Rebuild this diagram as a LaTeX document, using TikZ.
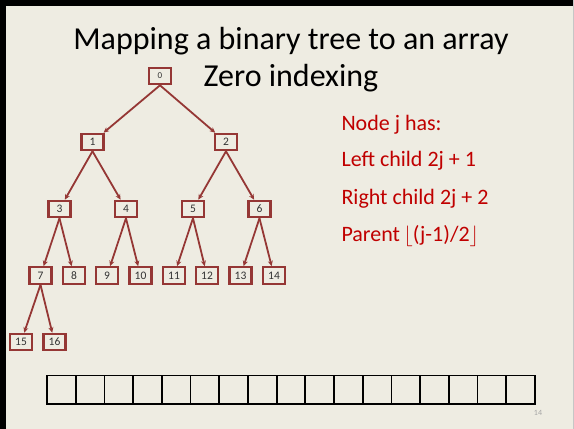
\documentclass[tikz,border=0pt]{standalone}
\usepackage{fontspec}
\setmainfont{Carlito}
\usetikzlibrary{arrows.meta}
\definecolor{slidebg}{RGB}{238,236,226}
\definecolor{treered}{RGB}{149,55,53}
\definecolor{notered}{RGB}{192,0,0}
\begin{document}
\begin{tikzpicture}[x=1pt,y=-1pt,
  tnode/.style={draw=treered, line width=2.1pt, minimum width=22pt, minimum height=16.5pt,
    inner sep=0pt, font=\fontsize{11.5}{11.5}\selectfont, text=black!80},
  edge/.style={draw=treered, line width=1.8pt, -{Stealth[length=5.5pt,width=5pt]}},
  cell/.style={draw=black, line width=1.8pt, minimum width=28.7pt, minimum height=28.5pt, inner sep=0pt},
  note/.style={anchor=base west, text=notered, font=\fontsize{22}{22}\selectfont}]
% slide background and frame
\fill[slidebg] (0,0) rectangle (574,429);
\useasboundingbox (0,0) rectangle (574,429);
\fill[black] (0,0) rectangle (574,6);
\fill[black] (0,0) rectangle (6,429);
\draw[gray!45, line width=1pt] (573,0) -- (573,429);

% title
\node[anchor=base, font=\fontsize{32}{32}\selectfont] (title) at (291,49.3) {Mapping a binary tree to an array};
\node[anchor=base, font=\fontsize{32}{32}\selectfont] (sub) at (291,86) {Zero indexing};

% tree
\node[tnode, font=\fontsize{9}{9}\selectfont] (n0) at (160,76) {0};
\node[tnode] (n1) at (92.5,142) {1};
\node[tnode] (n2) at (226,142) {2};
\node[tnode] (n3) at (59.5,209) {3};
\node[tnode] (n4) at (126,209) {4};
\node[tnode] (n5) at (193,209) {5};
\node[tnode] (n6) at (259.5,209) {6};
\node[tnode] (n7) at (40.5,275.5) {7};
\node[tnode] (n8) at (74,275.5) {8};
\node[tnode] (n9) at (107,275.5) {9};
\node[tnode] (n10) at (140.5,275.5) {10};
\node[tnode] (n11) at (174,275.5) {11};
\node[tnode] (n12) at (207,275.5) {12};
\node[tnode] (n13) at (240.5,275.5) {13};
\node[tnode] (n14) at (274,275.5) {14};
\node[tnode] (n15) at (21,342) {15};
\node[tnode] (n16) at (54.5,342) {16};

\foreach \p/\c in {n0/n1,n0/n2,n1/n3,n1/n4,n2/n5,n2/n6,n3/n7,n3/n8,n4/n9,n4/n10,
                   n5/n11,n5/n12,n6/n13,n6/n14,n7/n15,n7/n16}
  \draw[edge] (\p.south) -- (\c);

% index rules
\node[note] (r1) at (338,130) {Node j has:};
\node[note] (r2) at (338,166.7) {Left child 2j + 1};
\node[note] (r3) at (338,204) {Right child 2j + 2};
\node[note] (r4) at (338,241.7) {Parent\,$\lfloor$(j-1)/2$\rfloor$};

% empty array
\foreach \i in {0,...,16}
  \node[cell] (c\i) at ({47+28.7*(\i+0.5)},389.8) {};

% page number
\node[text=gray!70, font=\fontsize{8}{8}\selectfont] (pg) at (538,413) {14};
\end{tikzpicture}
\end{document}
